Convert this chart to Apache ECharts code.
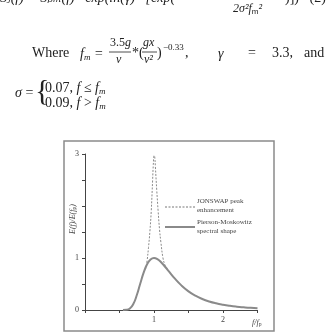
<!DOCTYPE html>
<html>
<head>
<meta charset="utf-8">
<script src="https://cdn.jsdelivr.net/npm/echarts@6/dist/echarts.min.js"></script>
<style>
  html, body { margin: 0; padding: 0; background: #fff; }
  #main { width: 327px; height: 333px; }
</style>
</head>
<body>
<div id="main"></div>
<script>
// Pierson-Moskowitz curve
var pmX = [0.55, 0.6, 0.65, 0.7, 0.75, 0.8, 0.85, 0.9, 0.95, 1.0, 1.05, 1.1, 1.2, 1.3, 1.4, 1.5, 1.6, 1.7, 1.8, 1.9, 2.0, 2.1, 2.2, 2.3, 2.4, 2.5];
var pmY = [0, 0.003, 0.027, 0.114, 0.283, 0.504, 0.718, 0.88, 0.971, 1.0, 0.978, 0.923, 0.768, 0.607, 0.469, 0.359, 0.275, 0.212, 0.164, 0.128, 0.101, 0.08, 0.064, 0.052, 0.042, 0.035];

// JONSWAP peak enhancement (dashed)
var jsX = [0.85, 0.88, 0.9, 0.92, 0.94, 0.96, 0.98, 0.99, 1.0, 1.01, 1.02, 1.04, 1.06, 1.08, 1.1, 1.13, 1.16, 1.2];
var jsY = [0.72, 0.8, 0.95, 1.2, 1.5, 1.9, 2.5, 2.8, 2.97, 2.95, 2.75, 2.3, 1.9, 1.55, 1.3, 1.0, 0.86, 0.77];

var yLabels = [0, 1, 3];
var xLabels = [1, 2];
var names = ['JONSWAP peak\nenhancement', 'Pierson-Moskowitz\nspectral shape'];

function pairs(xs, ys) {
    return xs.map(function (x, i) { return [x, ys[i]]; });
}

var serif = '"Liberation Serif", "DejaVu Serif", serif';
var lineCol = '#8a8a8a';
var dash = [2, 1.5];
var subM = { fontSize: 9, fontStyle: 'italic', fontFamily: serif, padding: [6, 0, 0, 0] };
var it = { fontStyle: 'italic', fontFamily: serif, fontSize: 14 };
var it12 = { fontStyle: 'italic', fontFamily: serif, fontSize: 12 };

var myChart = echarts.init(document.getElementById('main'));

var option = {
    animation: false,
    grid: { left: 85, right: 69.5, top: 154, bottom: 23 },
    xAxis: {
        type: 'value', min: 0, max: 2.5, interval: 0.5,
        splitLine: { show: false },
        axisLine: { lineStyle: { color: '#444', width: 1 } },
        axisTick: { length: 3, lineStyle: { color: '#444' } },
        axisLabel: {
            fontSize: 8, fontFamily: serif, color: '#444', margin: 6,
            formatter: function (v) { return xLabels.indexOf(v) >= 0 ? String(v) : ''; }
        }
    },
    yAxis: {
        type: 'value', min: 0, max: 3, interval: 0.5,
        splitLine: { show: false },
        axisLine: { show: true, lineStyle: { color: '#444', width: 1 } },
        axisTick: { show: true, length: 3, lineStyle: { color: '#444' } },
        axisLabel: {
            fontSize: 8, fontFamily: serif, color: '#444', margin: 6,
            formatter: function (v) { return yLabels.indexOf(v) >= 0 ? String(v) : ''; }
        }
    },
    series: [
        {
            name: names[0], type: 'line', smooth: 0.4, symbol: 'none',
            lineStyle: { color: lineCol, width: 1, type: dash },
            data: pairs(jsX, jsY), z: 2
        },
        {
            name: names[1], type: 'line', smooth: true, symbol: 'none',
            lineStyle: { color: lineCol, width: 2 },
            data: pairs(pmX, pmY), z: 3
        }
    ],
    graphic: [
        // figure frame
        { type: 'rect', shape: { x: 64, y: 141, width: 210, height: 190 },
          style: { fill: null, stroke: '#8a8a8a', lineWidth: 1.5 } },

        // legend
        { type: 'line', shape: { x1: 165, y1: 207, x2: 195, y2: 207 },
          style: { stroke: '#777', lineWidth: 1, lineDash: dash } },
        { type: 'text', x: 197, y: 197,
          style: { text: names[0], font: '7px ' + serif, lineHeight: 9, fill: '#444' } },
        { type: 'line', shape: { x1: 165, y1: 227, x2: 195, y2: 227 },
          style: { stroke: lineCol, lineWidth: 2 } },
        { type: 'text', x: 197, y: 218,
          style: { text: names[1], font: '7px ' + serif, lineHeight: 9, fill: '#444' } },

        // y axis title
        { type: 'text', x: 73, y: 219, rotation: Math.PI / 2,
          style: { text: 'E(f)/E(f{s|p})', rich: { s: { fontSize: 5, padding: [4, 0, 0, 0] } },
                   font: 'italic 8px ' + serif, fill: '#444', align: 'center', verticalAlign: 'middle' } },
        // x axis title
        { type: 'text', x: 252, y: 318,
          style: { text: 'f/f{s|p}', rich: { s: { fontSize: 5, padding: [4, 0, 0, 0] } },
                   font: 'italic 8px ' + serif, fill: '#444' } },

        // clipped formula line at top
        { type: 'text', x: 0, y: -9,
          style: { text: 'S\u2C7C(f) = S\u209A\u2098(f) · exp(ln(γ) · [exp(−', font: 'italic 14px ' + serif, fill: '#222' } },
        { type: 'text', x: 233, y: 2,
          style: { text: '2σ²f{m|m}²', rich: { m: { fontSize: 8, padding: [6, 0, 0, 0] } },
                   font: 'italic 12px ' + serif, fill: '#222' } },
        { type: 'text', x: 285, y: -9,
          style: { text: ')])   (2)', font: '14px ' + serif, fill: '#222' } },

        // "Where" line
        { type: 'text', x: 32, y: 46,
          style: { text: 'Where', font: '14px ' + serif, fill: '#222' } },
        { type: 'text', x: 80, y: 47,
          style: { text: 'f{m|m} =', rich: { m: subM },
                   font: 'italic 14px ' + serif, fill: '#222' } },
        { type: 'text', x: 110, y: 37,
          style: { text: '3.5{i|g}', rich: { i: it12 }, fontFamily: serif, fontSize: 12, fill: '#222' } },
        { type: 'line', shape: { x1: 109, y1: 52, x2: 131, y2: 52 }, style: { stroke: '#222', lineWidth: 0.8 } },
        { type: 'text', x: 116, y: 54,
          style: { text: 'v', font: 'italic 12px ' + serif, fill: '#222' } },
        { type: 'text', x: 132, y: 46,
          style: { text: '*(', font: '14px ' + serif, fill: '#222' } },
        { type: 'text', x: 143, y: 37,
          style: { text: 'gx', font: 'italic 12px ' + serif, fill: '#222' } },
        { type: 'line', shape: { x1: 142, y1: 52, x2: 157, y2: 52 }, style: { stroke: '#222', lineWidth: 0.8 } },
        { type: 'text', x: 144, y: 54,
          style: { text: 'v²', font: 'italic 12px ' + serif, fill: '#222' } },
        { type: 'text', x: 157, y: 46,
          style: { text: ')', font: '14px ' + serif, fill: '#222' } },
        { type: 'text', x: 163, y: 43,
          style: { text: '−0.33', font: '9px ' + serif, fill: '#222' } },
        { type: 'text', x: 185, y: 46,
          style: { text: ',', font: '14px ' + serif, fill: '#222' } },
        { type: 'text', x: 218, y: 47,
          style: { text: 'γ', font: 'italic 14px ' + serif, fill: '#222' } },
        { type: 'text', x: 248, y: 46,
          style: { text: '=', font: '14px ' + serif, fill: '#222' } },
        { type: 'text', x: 272, y: 46,
          style: { text: '3.3,', font: '14px ' + serif, fill: '#222' } },
        { type: 'text', x: 304, y: 46,
          style: { text: 'and', font: '14px ' + serif, fill: '#222' } },

        // sigma piecewise
        { type: 'text', x: 15, y: 86,
          style: { text: '{i|σ} =', rich: { i: it }, fontFamily: serif, fontSize: 14, fill: '#222' } },
        { type: 'text', x: 35, y: 77,
          style: { text: '{', font: '30px ' + serif, fill: '#222' } },
        { type: 'text', x: 45, y: 81,
          style: { text: '0.07, {i|f} ≤ {i|f}{m|m}', rich: { i: it, m: subM },
                   fontFamily: serif, fontSize: 14, fill: '#222' } },
        { type: 'text', x: 45, y: 96,
          style: { text: '0.09, {i|f} > {i|f}{m|m}', rich: { i: it, m: subM },
                   fontFamily: serif, fontSize: 14, fill: '#222' } }
    ]
};

myChart.setOption(option);
</script>
</body>
</html>
